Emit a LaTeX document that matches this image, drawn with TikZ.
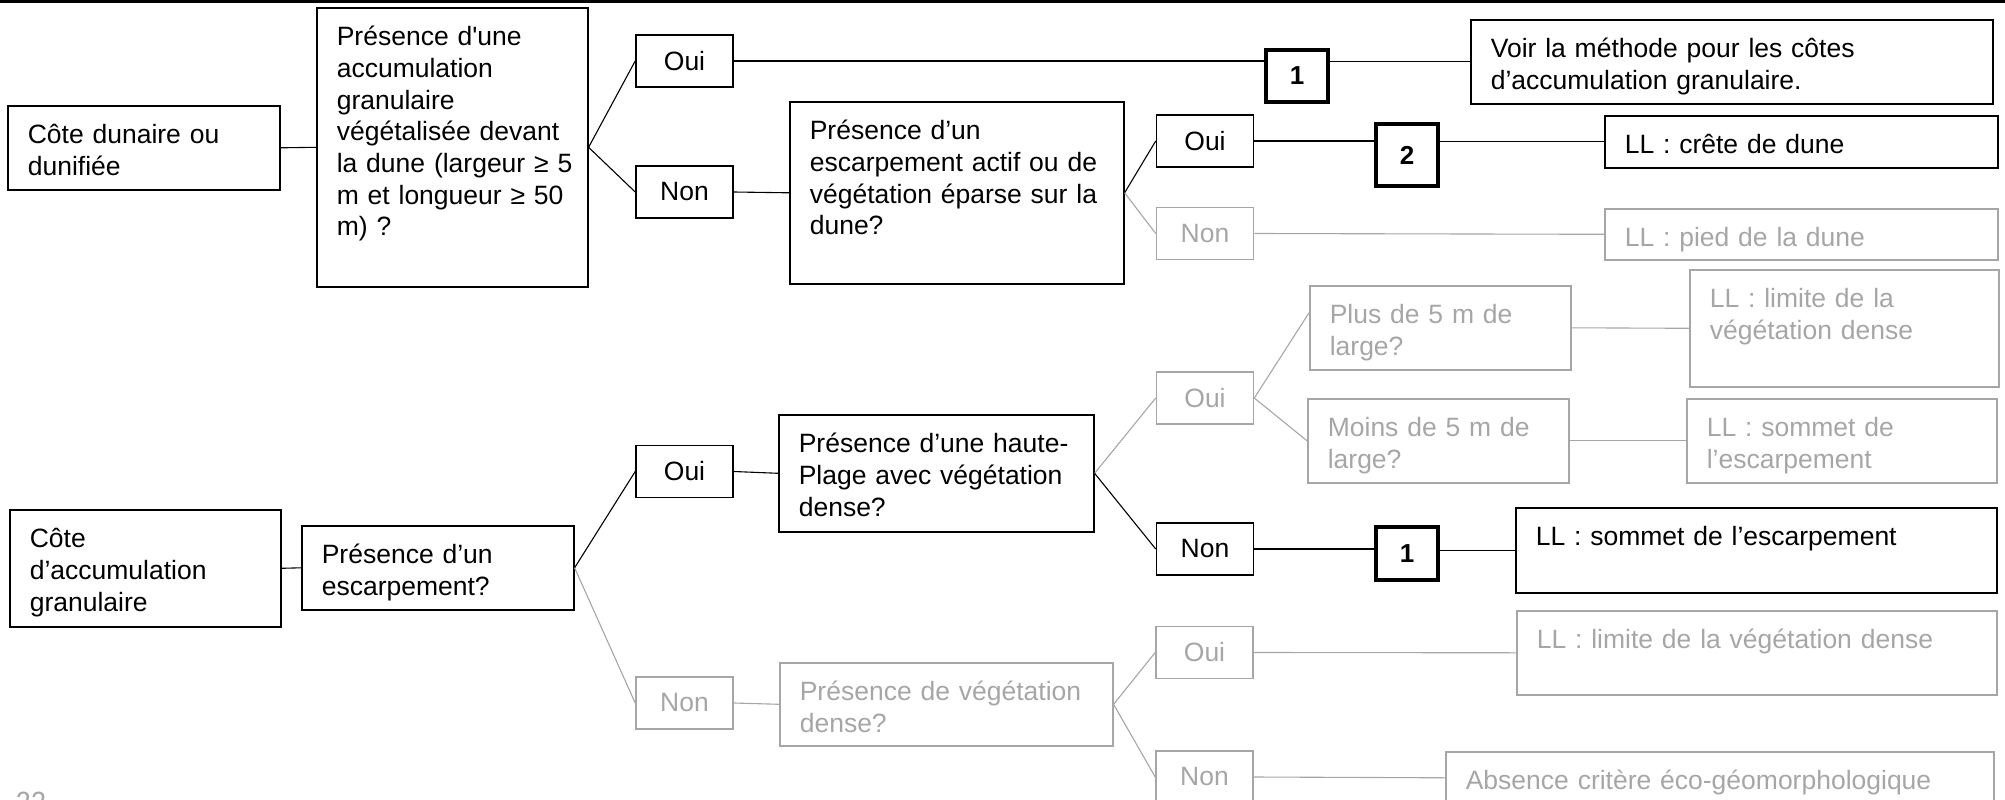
\documentclass[tikz,border=0pt]{standalone}
\usepackage{tikz}
\usepackage{fontspec}
\setmainfont{Liberation Sans}[Ligatures=TeXOff]
\newfontfamily\pagefont{Carlito}
\definecolor{fadegray}{RGB}{166,166,166}

\tikzset{every picture/.style={line width=1.1pt}}
\tikzset{
  box/.style={draw, line width=1.6pt, anchor=north west, align=left, inner xsep=20pt, inner ysep=0pt, text height=38pt},
  answer/.style={draw, line width=1.6pt, minimum width=97pt, minimum height=52pt, inner sep=0pt},
  numbox/.style={draw, line width=3.3pt, minimum width=62pt, minimum height=52pt, inner sep=0pt, font=\fontsize{26}{30}\selectfont\bfseries},
  faded/.style={draw=fadegray, text=fadegray},
  fadeline/.style={draw=fadegray}
}

\begin{document}
\begin{tikzpicture}[x=1pt,y=1pt,yscale=-1,xscale=1,font=\fontsize{26.5}{31.7}\selectfont]
\useasboundingbox (0,0) rectangle (2005,800);

%Straight Lines [top rule]
\draw [line width=3.5pt] (0,1) -- (2005,1);

%Shape: Rectangle [cote dunaire]
\node [box, text width=232pt, text depth=46pt] (dune) at (7,105) {Côte dunaire ou\\dunifiée};
\node [box, text width=231pt, text depth=241pt] (acc) at (316,7) {Présence d'une\\accumulation\\granulaire\\végétalisée~devant\\la~dune~(largeur~≥~5\\m~et~longueur~≥~50\\m) ?};
\node [answer] (ouiA) at (684.5,61) {Oui};
\node [answer] (nonA) at (684.5,192) {Non};
\node [numbox] (unA) at (1297,76) {1};
\node [box, text width=482pt, text depth=46pt] (voir) at (1470,19) {Voir la méthode pour les côtes\\d’accumulation granulaire.};
\node [box, text width=294pt, text depth=144pt] (actif) at (789,101) {Présence d’un\\escarpement~actif~ou~de\\végétation~éparse~sur~la\\dune?};
\node [answer] (ouiB) at (1205,141) {Oui};
\node [answer, faded] (nonB) at (1205,233.5) {Non};
\node [numbox, minimum height=62pt] (deux) at (1407,155) {2};
\node [box, text width=353pt, text depth=14pt] (crete) at (1604,115) {LL : crête de dune};
\node [box, faded, text width=353pt, text depth=13pt] (pied) at (1604,208) {LL : pied de la dune};

%Shape: Rectangle [cote d'accumulation]
\node [box, text width=231pt, text depth=79pt] (accu) at (9,509) {Côte\\d’accumulation\\granulaire};
\node [box, text width=232pt, text depth=46pt] (escarp) at (301,525) {Présence d’un\\escarpement?};
\node [answer] (ouiC) at (684.5,471.5) {Oui};
\node [answer, faded] (nonC) at (684.5,703) {Non};
\node [box, text width=275pt, text depth=79pt] (haute) at (778,414) {Présence~d’une~haute-\\Plage~avec~végétation\\dense?};
\node [answer, faded] (ouiD) at (1205,398) {Oui};
\node [answer] (nonD) at (1205,549) {Non};
\node [box, faded, text width=221pt, text depth=46pt] (plus) at (1309,285) {Plus de 5 m de\\large?};
\node [box, faded, text width=221pt, text depth=46pt] (moins) at (1307,398) {Moins de 5 m de\\large?};
\node [box, faded, text width=269pt, text depth=79pt] (limA) at (1689,269) {LL : limite de la\\végétation dense};
\node [box, faded, text width=270pt, text depth=46pt] (sommA) at (1686,398) {LL : sommet de\\l’escarpement};
\node [numbox, minimum height=53pt] (unB) at (1407,553.5) {1};
\node [box, text width=441pt, text depth=47pt] (sommB) at (1515,507) {LL : sommet de l’escarpement};
\node [box, faded, text width=293pt, text depth=45pt] (vege) at (779,662) {Présence~de~végétation\\dense?};
\node [answer, faded] (ouiE) at (1204.5,652.5) {Oui};
\node [answer, faded] (nonE) at (1204.5,777) {Non};
\node [box, faded, text width=440pt, text depth=46pt] (limB) at (1516,610) {LL : limite de la végétation dense};
\node [box, faded, text width=508pt, text depth=14pt] (absence) at (1445,751) {Absence critère éco-géomorphologique};

% Text Node [page number]
\node [anchor=north west, inner sep=0pt, text=fadegray, font=\pagefont\fontsize{30}{36}\selectfont] (page) at (15,791) {22};

%Straight Lines [upper tree]
\draw (dune.east) -- (acc.west);
\draw (acc.east) -- (ouiA.west);
\draw (acc.east) -- (nonA.west);
\draw (ouiA.east) -- (ouiA.east -| unA.west);
\draw (unA.east |- voir.west) -- (voir.west);
\draw (nonA.east) -- (actif.west);
\draw (actif.east) -- (ouiB.west);
\draw [fadeline] (actif.east) -- (nonB.west);
\draw (ouiB.east) -- (ouiB.east -| deux.west);
\draw (deux.east |- crete.west) -- (crete.west);
\draw [fadeline] (nonB.east) -- (pied.west);

%Straight Lines [lower tree]
\draw (accu.east) -- (escarp.west);
\draw (escarp.east) -- (ouiC.west);
\draw [fadeline] (escarp.east) -- (nonC.west);
\draw (ouiC.east) -- (haute.west);
\draw [fadeline] (haute.east) -- (ouiD.west);
\draw (haute.east) -- (nonD.west);
\draw [fadeline] (ouiD.east) -- ([yshift=-15pt]plus.west);
\draw [fadeline] (ouiD.east) -- (moins.west);
\draw [fadeline] (plus.east) -- (limA.west);
\draw [fadeline] (moins.east) -- (sommA.west);
\draw (nonD.east) -- (nonD.east -| unB.west);
\draw (unB.east |- sommB.west) -- (sommB.west);
\draw [fadeline] (nonC.east) -- (vege.west);
\draw [fadeline] (vege.east) -- (ouiE.west);
\draw [fadeline] (vege.east) -- (nonE.west);
\draw [fadeline] (ouiE.east) -- (limB.west);
\draw [fadeline] (nonE.east) -- (absence.west);

\end{tikzpicture}
\end{document}
